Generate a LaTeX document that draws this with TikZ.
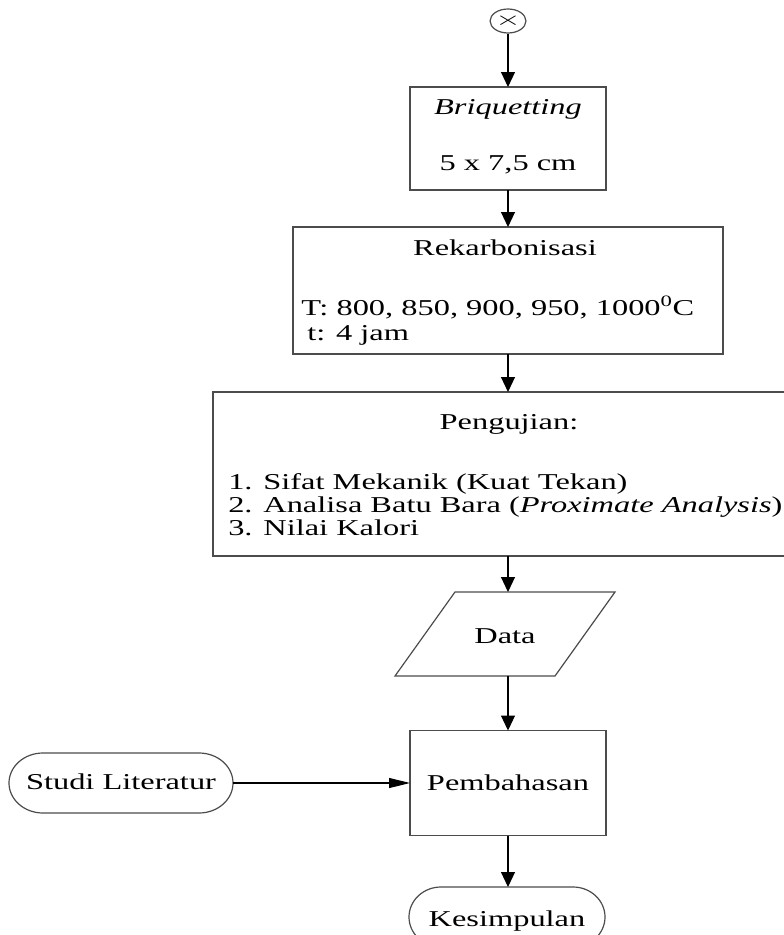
\documentclass[tikz,border=0pt]{standalone}
\usepackage{fontspec}
\setmainfont{Liberation Serif}[FakeStretch=1.43]
\usetikzlibrary{arrows.meta,shapes.geometric}
\def\u{0.75pt}
\begin{document}
\begin{tikzpicture}[x=0.75pt,y=-0.75pt,
  lbl/.style={font=\fontsize{17}{20}\selectfont, inner sep=0pt, anchor=base},
  frame/.style={draw=black!70, line width=0.9pt},
  hold/.style={rectangle, inner sep=0pt, outer sep=0pt},
  link/.style={draw=black, line width=0.8pt, -{Triangle[length=11.25pt,width=10.5pt]}},
  hlink/.style={draw=black, line width=0.8pt, -{Triangle[length=15.75pt,width=7.5pt]}},
]
\useasboundingbox (0,0) rectangle (784,935);
\clip (0,0) rectangle (784,935);
\fill[white] (0,0) rectangle (784,935);

% off-page connector
\node[ellipse, frame, minimum width=33*\u, minimum height=24*\u, inner sep=0pt] (conn) at (508,21)
  {\scalebox{1.7}[1]{\fontsize{15}{15}\selectfont$\times$}};

% Briquetting
\node[hold, frame, minimum width=196*\u, minimum height=103*\u] (briq) at (508,138.5) {};
\node[lbl] (briqA) at (508,114) {\textit{Briquetting}};
\node[lbl] (briqB) at (508,170) {5 x 7,5 cm};

% Rekarbonisasi
\node[hold, frame, minimum width=430*\u, minimum height=127*\u] (rek) at (508,290.5) {};
\node[lbl] (rekA) at (505,255) {Rekarbonisasi};
\node[lbl, anchor=base west] (rekB) at (301,315) {T: 800, 850, 900, 950, 1000\textsuperscript{0}C};
\node[lbl, anchor=base west] (rekC) at (307,340) {t: 4 jam};

% Pengujian
\node[hold, frame, minimum width=590*\u, minimum height=164*\u] (peng) at (508,474) {};
\node[lbl] (pengA) at (509,429) {Pengujian:};
\node[lbl, anchor=base west] (pengB) at (228,489) {1. Sifat Mekanik (Kuat Tekan)};
\node[lbl, anchor=base west] (pengC) at (228,512) {2. Analisa Batu Bara (\textit{Proximate Analysis})};
\node[lbl, anchor=base west] (pengD) at (228,535) {3. Nilai Kalori};

% Data
\node[hold, minimum width=160*\u, minimum height=84*\u] (data) at (505,634) {};
\draw[frame] ([xshift=30*\u]data.north west) -- ([xshift=30*\u]data.north east)
  -- ([xshift=-30*\u]data.south east) -- ([xshift=-30*\u]data.south west) -- cycle;
\node[lbl] (dataT) at (505,643) {Data};

% Pembahasan
\node[hold, frame, minimum width=196*\u, minimum height=105*\u] (pemb) at (508,783) {};
\node[lbl] (pembT) at (508,790) {Pembahasan};

% Studi Literatur
\node[hold, minimum width=224*\u, minimum height=60*\u] (studi) at (121,783) {};
\draw[frame] ([xshift=34*\u]studi.north west) -- ([xshift=-34*\u]studi.north east)
  arc[start angle=90,end angle=-90,x radius=34*\u,y radius=30*\u]
  -- ([xshift=34*\u]studi.south west)
  arc[start angle=270,end angle=90,x radius=34*\u,y radius=30*\u] -- cycle;
\node[lbl] (studiT) at (121,789) {Studi Literatur};

% Kesimpulan
\node[hold, minimum width=196*\u, minimum height=60*\u] (kes) at (507,917) {};
\draw[frame] ([xshift=32*\u]kes.north west) -- ([xshift=-32*\u]kes.north east)
  arc[start angle=90,end angle=-90,x radius=32*\u,y radius=30*\u]
  -- ([xshift=32*\u]kes.south west)
  arc[start angle=270,end angle=90,x radius=32*\u,y radius=30*\u] -- cycle;
\node[lbl] (kesT) at (507,926) {Kesimpulan};

% connectors
\draw[link] (conn.south) -- (briq.north);
\draw[link] (briq.south) -- (rek.north);
\draw[link] (rek.south) -- (peng.north);
\draw[link] (peng.south) -- (peng.south |- data.north);
\draw[link] (pemb.north |- data.south) -- (pemb.north);
\draw[link] (pemb.south) -- (pemb.south |- kes.north);
\draw[hlink] (studi.east) -- (pemb.west);
\end{tikzpicture}
\end{document}
